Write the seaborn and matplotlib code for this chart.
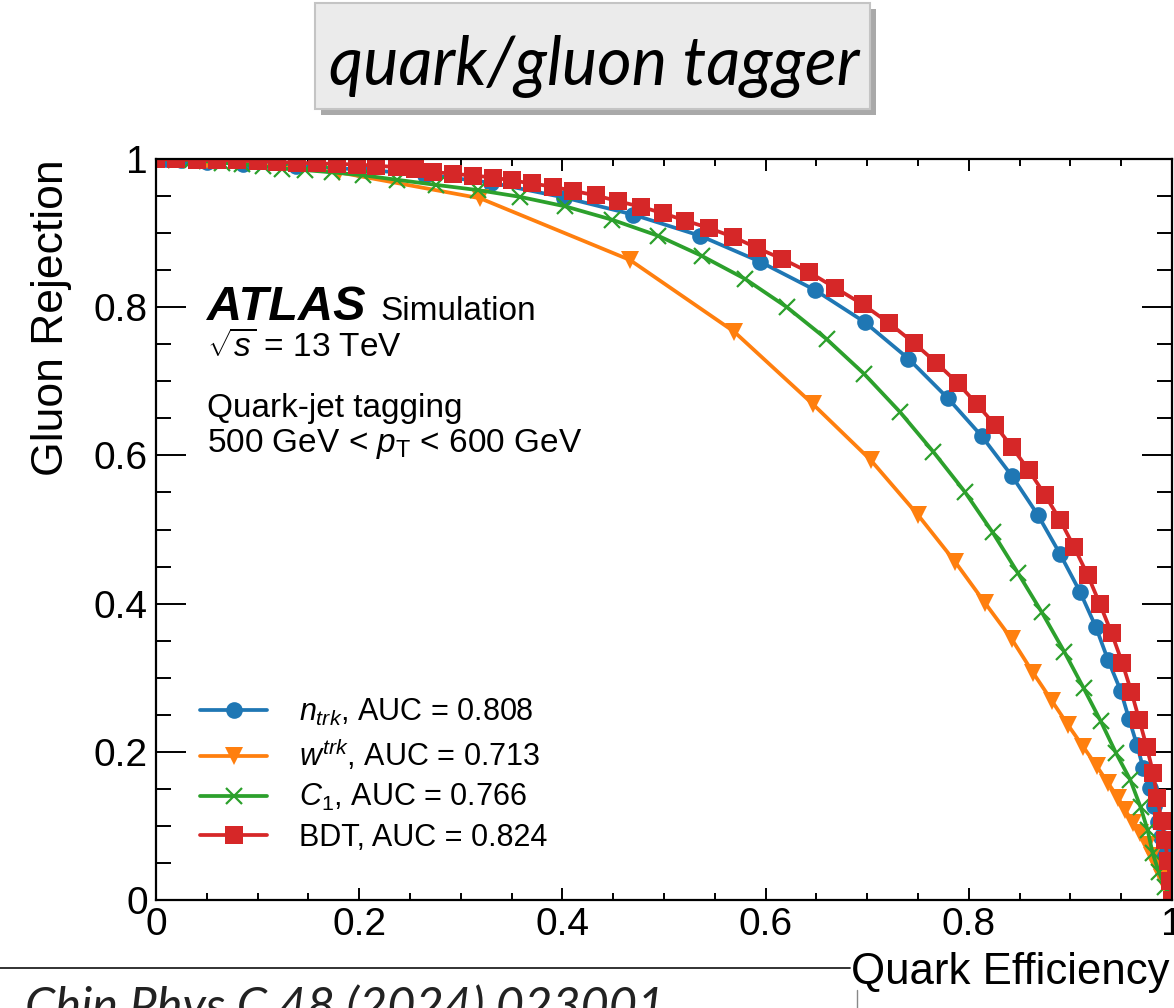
import numpy as np
import pandas as pd
import matplotlib
matplotlib.use("Agg")
import matplotlib.pyplot as plt
import seaborn as sns
from matplotlib.patches import Rectangle
from matplotlib.lines import Line2D
from matplotlib.ticker import MultipleLocator, FuncFormatter

# ---------------- data ----------------
ntrk_eff = [0.0, 0.01, 0.025, 0.05, 0.086, 0.138, 0.20, 0.265, 0.33, 0.402, 0.4695,
            0.5354, 0.5945, 0.6486, 0.6974, 0.7406, 0.7795, 0.8127, 0.8425, 0.868,
            0.8898, 0.9094, 0.9252, 0.937, 0.9495, 0.9577, 0.9656, 0.9715, 0.978,
            0.982, 0.986, 0.989, 0.992, 0.995, 0.9975, 1.0]
ntrk_rej = [1.0, 0.9995, 0.999, 0.996, 0.993, 0.99, 0.986, 0.979, 0.968, 0.948, 0.925,
            0.8965, 0.8614, 0.8232, 0.78, 0.7305, 0.677, 0.626, 0.5722, 0.5196,
            0.467, 0.416, 0.368, 0.324, 0.2825, 0.2443, 0.209, 0.1785, 0.1516,
            0.127, 0.1057, 0.085, 0.065, 0.045, 0.025, 0.0]

wtrk_eff = [0.0, 0.05, 0.18, 0.319, 0.4665, 0.569, 0.6467, 0.7034, 0.75, 0.7864,
            0.816, 0.8422, 0.8632, 0.8816, 0.8977, 0.9126, 0.9258, 0.937, 0.947,
            0.954, 0.962, 0.9685, 0.975, 0.98, 0.985, 0.99, 0.995, 1.0]
wtrk_rej = [1.0, 0.998, 0.982, 0.947, 0.8637, 0.767, 0.669, 0.5938, 0.5196, 0.4566,
            0.4008, 0.3522, 0.3068, 0.269, 0.236, 0.2069, 0.1808, 0.158, 0.1376,
            0.121, 0.104, 0.09, 0.074, 0.06, 0.045, 0.03, 0.015, 0.0]

c1_eff = [0.0, 0.01, 0.02, 0.035, 0.05, 0.065, 0.085, 0.105, 0.124, 0.147, 0.173,
          0.204, 0.237, 0.276, 0.317, 0.358, 0.403, 0.449, 0.494, 0.537, 0.58,
          0.621, 0.66, 0.697, 0.732, 0.765, 0.796, 0.8235, 0.8485, 0.872, 0.894,
          0.913, 0.93, 0.945, 0.959, 0.969, 0.976, 0.981, 0.987, 0.993, 1.0]
c1_rej = [1.0, 0.9995, 0.999, 0.998, 0.997, 0.995, 0.993, 0.99, 0.987, 0.985, 0.982,
          0.978, 0.972, 0.965, 0.958, 0.949, 0.936, 0.918, 0.8965, 0.8694, 0.838,
          0.80, 0.757, 0.71, 0.659, 0.605, 0.551, 0.496, 0.441, 0.388, 0.335,
          0.286, 0.241, 0.198, 0.162, 0.1255, 0.0945, 0.063, 0.038, 0.018, 0.0]

bdt_eff = [0.0, 0.02, 0.04, 0.06, 0.08, 0.10, 0.119, 0.1385, 0.158, 0.178, 0.1975,
           0.217, 0.237, 0.255, 0.273, 0.2925, 0.312, 0.332, 0.3504, 0.370, 0.3907,
           0.4104, 0.4326, 0.4547, 0.477, 0.4986, 0.5207, 0.5438, 0.5684, 0.5915,
           0.6166, 0.6424, 0.6687, 0.6954, 0.7214, 0.7457, 0.768, 0.789, 0.808,
           0.8258, 0.8422, 0.859, 0.875, 0.8898, 0.9035, 0.917, 0.929, 0.9406,
           0.951, 0.960, 0.9678, 0.975, 0.9816, 0.9855, 0.9898, 0.993, 0.996,
           0.998, 1.0]
bdt_rej = [1.0, 0.9995, 0.999, 0.9985, 0.998, 0.997, 0.996, 0.995, 0.994, 0.9935,
           0.9925, 0.991, 0.989, 0.987, 0.9825, 0.980, 0.9777, 0.975, 0.971, 0.967,
           0.9626, 0.957, 0.951, 0.943, 0.9356, 0.927, 0.917, 0.907, 0.8947, 0.88,
           0.865, 0.8475, 0.826, 0.804, 0.7787, 0.752, 0.725, 0.6977, 0.669, 0.641,
           0.6117, 0.580, 0.5466, 0.5128, 0.4768, 0.4386, 0.3995, 0.36, 0.3203,
           0.281, 0.243, 0.207, 0.171, 0.137, 0.107, 0.081, 0.052, 0.026, 0.0]

labels = [r"$n_{trk}$, AUC = 0.808", r"$w^{trk}$, AUC = 0.713",
          r"$C_{1}$, AUC = 0.766", "BDT, AUC = 0.824"]
tick_values = [0, 0.2, 0.4, 0.6, 0.8, 1.0]

# ---------------- style ----------------
sns.set_theme(style="ticks")
plt.rcParams['font.family'] = ['Liberation Sans', 'DejaVu Sans']
plt.rcParams['mathtext.fontset'] = 'custom'
plt.rcParams['mathtext.rm'] = 'Liberation Sans'
plt.rcParams['mathtext.it'] = 'Liberation Sans:italic'
plt.rcParams['mathtext.bf'] = 'Liberation Sans:bold'
plt.rcParams['mathtext.sf'] = 'Liberation Sans'
for key in ["text.color", "axes.labelcolor", "xtick.color", "ytick.color",
            "xtick.labelcolor", "ytick.labelcolor", "axes.edgecolor"]:
    plt.rcParams[key] = "black"

W, H = 1174, 1008
fig = plt.figure(figsize=(W / 100, H / 100), dpi=100)
ax = fig.add_axes([156 / W, 108 / H, 1016 / W, 741 / H])

series = [
    (ntrk_eff, ntrk_rej, "#1f77b4", "o", 12.0, 0.0, labels[0]),
    (wtrk_eff, wtrk_rej, "#ff7f0e", "v", 13.0, 0.0, labels[1]),
    (c1_eff, c1_rej, "#2ca02c", "x", 11.0, 1.6, labels[2]),
    (bdt_eff, bdt_rej, "#d62728", "s", 12.8, 0.0, labels[3]),
]
for ex, ry, col, mk, ms, mew, lab in series:
    df = pd.DataFrame({"eff": ex, "rej": ry})
    sns.lineplot(data=df, x="eff", y="rej", ax=ax, color=col, marker=mk,
                 markersize=ms, markeredgecolor=col, markeredgewidth=mew,
                 linewidth=2.7, label=lab, sort=False, errorbar=None)

ax.set_xlim(0, 1)
ax.set_ylim(0, 1)
ax.set_xticks(tick_values)
ax.set_yticks(tick_values)
fmt = FuncFormatter(lambda v, p: f"{v:g}")
ax.xaxis.set_major_formatter(fmt)
ax.yaxis.set_major_formatter(fmt)
ax.xaxis.set_minor_locator(MultipleLocator(0.05))
ax.yaxis.set_minor_locator(MultipleLocator(0.05))
ax.tick_params(which="both", direction="in", top=True, right=True, width=1.4,
               color="black", labelsize=28, labelcolor="black")
ax.tick_params(axis="x", which="major", length=8.6, pad=5)
ax.tick_params(axis="x", which="minor", length=5)
ax.tick_params(axis="y", which="major", length=21.6, pad=6)
ax.tick_params(axis="y", which="minor", length=10.8)
for s in ax.spines.values():
    s.set_linewidth(1.6)
    s.set_color("black")

ax.set_xlabel("Quark Efficiency", fontsize=31.5, loc="right", color="black")
ax.xaxis.set_label_coords(0.998, -0.0702)
ax.set_ylabel("Gluon Rejection", fontsize=32, loc="top", color="black")
ax.yaxis.set_label_coords(-0.083, 1.0)

leg = ax.legend(loc="upper left", bbox_to_anchor=(0.0433, 0.274), frameon=False,
                fontsize=22, handlelength=2.2, handletextpad=1.05, labelspacing=0.3,
                borderaxespad=0, borderpad=0)
for t in leg.get_texts():
    t.set_color("black")

# annotations
def ax_x(px):
    return (px - 156) / 1016

def ax_y(py):
    return (900 - py) / 741

ax.text(ax_x(207), ax_y(320), "ATLAS", fontsize=35, fontweight="bold",
        fontstyle="italic", transform=ax.transAxes, va="baseline")
ax.text(ax_x(380), ax_y(320), "Simulation", fontsize=24,
        transform=ax.transAxes, va="baseline")
ax.text(ax_x(207), ax_y(357), r"$\sqrt{s}$ = 13 TeV", fontsize=24,
        transform=ax.transAxes, va="baseline")
ax.text(ax_x(207), ax_y(417), "Quark-jet tagging", fontsize=24,
        transform=ax.transAxes, va="baseline")
ax.text(ax_x(207), ax_y(452), r"500 GeV < $p_{\mathrm{T}}$ < 600 GeV", fontsize=24,
        transform=ax.transAxes, va="baseline")

# title box with shadow
def fx(px):
    return px / W

def fy(py):
    return 1 - py / H

fig.patches.append(Rectangle((fx(321), fy(115)), fx(876) - fx(321), fy(9) - fy(115),
                             transform=fig.transFigure, facecolor="#a9a9a9",
                             edgecolor="none", zorder=1))
fig.patches.append(Rectangle((fx(315), fy(109)), fx(870) - fx(315), fy(3) - fy(109),
                             transform=fig.transFigure, facecolor="#ebebeb",
                             edgecolor="#c4c4c4", linewidth=1.5, zorder=2))
fig.text(fx(594), fy(85), "quark/gluon tagger", fontsize=48, fontstyle="italic",
         family=["Lato", "DejaVu Sans"], color="black", ha="center", va="baseline",
         zorder=3)

# bottom citation line
fig.add_artist(Line2D([0, fx(850)], [fy(968), fy(968)], transform=fig.transFigure,
                      color="#222222", linewidth=1.3))
fig.add_artist(Line2D([fx(857), fx(857)], [fy(990), fy(1008)], transform=fig.transFigure,
                      color="#888888", linewidth=1.0))
fig.text(fx(25), fy(984), "Chin.Phys.C 48 (2024) 023001", fontsize=35,
         fontstyle="italic", family=["Lato", "DejaVu Sans"], color="#222222",
         ha="left", va="top")

fig.savefig("out.png", dpi=100)
